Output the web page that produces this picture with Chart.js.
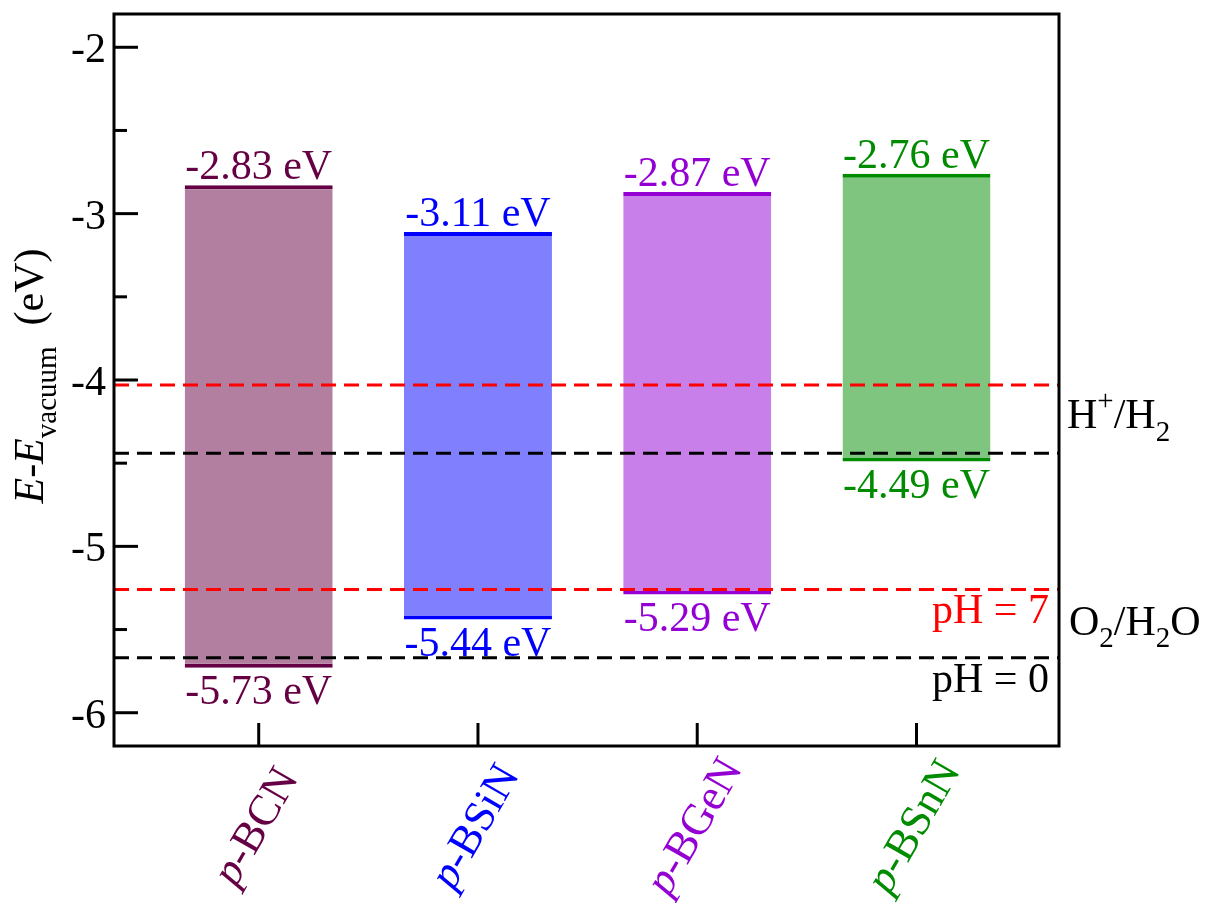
<!DOCTYPE html>
<html>
<head>
<meta charset="utf-8">
<script src="https://cdn.jsdelivr.net/npm/chart.js@4.4.0/dist/chart.umd.min.js"></script>
<style>
    html, body { margin: 0; padding: 0; background: #fff; }
    #wrap { width: 1209px; height: 903px; }
</style>
</head>
<body>
<div id="wrap"><canvas id="band-chart" width="1209" height="903"></canvas></div>
<script>
// band edges (eV vs vacuum)
const materials = ['BCN', 'BSiN', 'BGeN', 'BSnN'];
const cbm = [-2.83, -3.11, -2.87, -2.76];
const vbm = [-5.73, -5.44, -5.29, -4.49];
// redox potentials: [pH 0, pH 7]
const hLevels = [-4.44, -4.03];
const oLevels = [-5.67, -5.26];
const yTicks = [-2, -3, -4, -5, -6];
const yMinorTicks = [-2.5, -3.5, -4.5, -5.5];

const edgeColors = ['#660044', '#0000ff', '#9400d3', '#008b00'];
const fillColors = ['#b27fa1', '#8080ff', '#c97fe9', '#7fc57f'];
const phColors = ['#000000', '#ff0000'];

const X_MIN = -0.66, X_MAX = 3.65;
const Y_MIN = -6.2, Y_MAX = -1.8;
const FONT = '"Liberation Serif", "Times New Roman", serif';

function fontFor(part, size) {
    const s = (part.sub || part.sup) ? Math.round(size * 0.7) : size;
    return (part.italic ? 'italic ' : '') + s + 'px ' + FONT;
}

function drawRich(ctx, parts, x, y, size, color, align) {
    let total = 0;
    parts.forEach(p => {
        ctx.font = fontFor(p, size);
        p.w = ctx.measureText(p.t).width;
        total += p.w;
    });
    let cx = align === 'right' ? x - total : align === 'center' ? x - total / 2 : x;
    ctx.fillStyle = color;
    ctx.textAlign = 'left';
    ctx.textBaseline = 'alphabetic';
    parts.forEach(p => {
        ctx.font = fontFor(p, size);
        let off = 0;
        if (p.sub) off = size * 0.3;
        if (p.sup) off = -size * 0.42;
        ctx.fillText(p.t, cx, y + off);
        cx += p.w;
    });
}

const decorPlugin = {
    id: 'decor',
    afterDatasetsDraw(chart) {
        const ctx = chart.ctx;
        const xs = chart.scales.x, ys = chart.scales.y;
        const a = chart.chartArea;
        ctx.save();

        // frame
        ctx.strokeStyle = '#000';
        ctx.lineWidth = 3;
        ctx.strokeRect(a.left, a.top, a.right - a.left, a.bottom - a.top);

        // y ticks (inward)
        yTicks.forEach(v => {
            const py = ys.getPixelForValue(v);
            ctx.beginPath(); ctx.moveTo(a.left, py); ctx.lineTo(a.left + 24, py); ctx.stroke();
            drawRich(ctx, [{t: String(v)}], a.left - 8, py + 15, 42, '#000', 'right');
        });
        yMinorTicks.forEach(v => {
            const py = ys.getPixelForValue(v);
            ctx.beginPath(); ctx.moveTo(a.left, py); ctx.lineTo(a.left + 13, py); ctx.stroke();
        });

        // x ticks and rotated labels
        materials.forEach((m, i) => {
            const px = xs.getPixelForValue(i);
            ctx.strokeStyle = '#000';
            ctx.beginPath(); ctx.moveTo(px, a.bottom); ctx.lineTo(px, a.bottom - 23); ctx.stroke();
            ctx.save();
            ctx.translate(px, a.bottom + 82);
            ctx.rotate(-Math.PI / 3);
            drawRich(ctx, [{t: 'p', italic: true}, {t: '-' + m}], 0, 10, 44, edgeColors[i], 'center');
            ctx.restore();
        });

        // band edge value labels
        materials.forEach((m, i) => {
            const px = xs.getPixelForValue(i);
            drawRich(ctx, [{t: cbm[i].toFixed(2) + ' eV'}], px, ys.getPixelForValue(cbm[i]) - 6, 42, edgeColors[i], 'center');
            drawRich(ctx, [{t: vbm[i].toFixed(2) + ' eV'}], px, ys.getPixelForValue(vbm[i]) + 36, 42, edgeColors[i], 'center');
        });

        // pH labels
        drawRich(ctx, [{t: 'pH = 7'}], a.right - 10, ys.getPixelForValue(oLevels[1]) + 33, 42, phColors[1], 'right');
        drawRich(ctx, [{t: 'pH = 0'}], a.right - 10, ys.getPixelForValue(oLevels[0]) + 34, 42, phColors[0], 'right');

        // redox couple labels
        const hMid = (hLevels[0] + hLevels[1]) / 2;
        const oMid = (oLevels[0] + oLevels[1]) / 2;
        drawRich(ctx, [{t: 'H'}, {t: '+', sup: true}, {t: '/H'}, {t: '2', sub: true}],
            a.right + 8, ys.getPixelForValue(hMid) + 9, 42, '#000', 'left');
        drawRich(ctx, [{t: 'O'}, {t: '2', sub: true}, {t: '/H'}, {t: '2', sub: true}, {t: 'O'}],
            a.right + 10, ys.getPixelForValue(oMid) + 11, 42, '#000', 'left');

        // y axis title
        ctx.save();
        ctx.translate(43, (a.top + a.bottom) / 2 - 4);
        ctx.rotate(-Math.PI / 2);
        drawRich(ctx, [{t: 'E', italic: true}, {t: '-'}, {t: 'E', italic: true}, {t: 'vacuum', sub: true}, {t: '  (eV)'}],
            0, 0, 42, '#000', 'center');
        ctx.restore();

        ctx.restore();
    }
};

function levelLine(v, color) {
    return {
        type: 'line',
        data: [{x: X_MIN, y: v}, {x: X_MAX, y: v}],
        borderColor: color,
        borderWidth: 3,
        borderDash: [15, 8],
        pointRadius: 0,
        fill: false,
        order: 0
    };
}

function buildChart() {
    return new Chart(
        document.getElementById('band-chart'),
        {
            type: 'bar',
            data: {
                datasets: [
                    {
                        type: 'bar',
                        data: materials.map((m, i) => ({x: i, y: [vbm[i], cbm[i]]})),
                        backgroundColor: fillColors,
                        borderColor: edgeColors,
                        borderWidth: {top: 4, bottom: 4, left: 0, right: 0},
                        borderSkipped: false,
                        barPercentage: 0.675,
                        categoryPercentage: 1,
                        order: 1
                    },
                    levelLine(hLevels[1], phColors[1]),
                    levelLine(hLevels[0], phColors[0]),
                    levelLine(oLevels[1], phColors[1]),
                    levelLine(oLevels[0], phColors[0])
                ]
            },
            options: {
                responsive: false,
                animation: false,
                layout: {
                    padding: {left: 114, right: 150, top: 14, bottom: 157}
                },
                plugins: {
                    legend: {display: false},
                    tooltip: {enabled: false}
                },
                scales: {
                    x: {
                        type: 'linear',
                        min: X_MIN,
                        max: X_MAX,
                        offset: false,
                        display: false,
                        afterBuildTicks: scale => {
                            scale.ticks = materials.map((m, i) => ({value: i}));
                        }
                    },
                    y: {
                        min: Y_MIN,
                        max: Y_MAX,
                        display: false
                    }
                }
            },
            plugins: [decorPlugin]
        }
    );
}

Promise.all([
    document.fonts.load('42px "Liberation Serif"'),
    document.fonts.load('italic 42px "Liberation Serif"')
]).then(buildChart, buildChart);
</script>
</body>
</html>
